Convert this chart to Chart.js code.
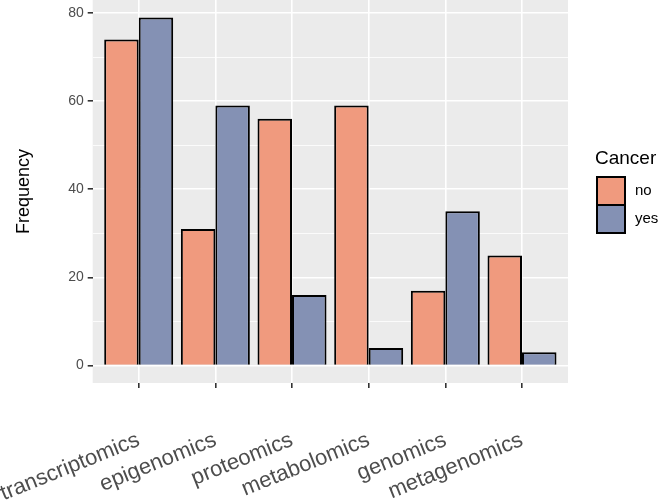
<!DOCTYPE html>
<html>
<head>
<meta charset="utf-8">
<script src="https://cdn.jsdelivr.net/npm/chart.js@4"></script>
<style>
  html, body { margin: 0; padding: 0; background: #ffffff; }
  #c { display: block; }
</style>
</head>
<body>
<canvas id="c" width="669" height="504"></canvas>
<script>
// ---- data ----
const categories = ["transcriptomics", "epigenomics", "proteomics", "metabolomics", "genomics", "metagenomics"];
const seriesNames = ["no", "yes"];
const valuesNo  = [74, 31, 56, 59, 17, 25];
const valuesYes = [79, 59, 16, 4, 35, 3];
const yTickValues = [0, 20, 40, 60, 80];
const yMinorValues = [10, 30, 50, 70];
const legendTitle = "Cancer";
const yTitle = "Frequency";

// ---- styles ----
const FONT = '"Liberation Sans", Arial, Helvetica, sans-serif';
const colNo = '#F09A7E';
const colYes = '#8491B4';
const panelBg = '#EBEBEB';

const toPoints = arr => arr.map((v, i) => ({ x: i + 1, y: v }));

const bgPlugin = {
  id: 'panelBg',
  beforeDraw(chart) {
    const { ctx, chartArea: a } = chart;
    ctx.save();
    ctx.fillStyle = panelBg;
    ctx.fillRect(a.left, a.top, a.right - a.left, a.bottom - a.top);
    ctx.restore();
  }
};

const legendPlugin = {
  id: 'ggLegend',
  afterDraw(chart) {
    const ctx = chart.ctx;
    ctx.save();
    ctx.fillStyle = '#000';
    ctx.font = '19px ' + FONT;
    ctx.textAlign = 'left';
    ctx.textBaseline = 'middle';
    ctx.fillText(legendTitle, 595, 159);
    const bx = 597, bw = 28, bh = 28, by = 177;
    const cols = [colNo, colYes];
    ctx.lineWidth = 2;
    ctx.strokeStyle = '#000';
    seriesNames.forEach((name, i) => {
      ctx.fillStyle = cols[i];
      ctx.fillRect(bx, by + i * bh, bw, bh);
      ctx.strokeRect(bx, by + i * bh, bw, bh);
      ctx.fillStyle = '#000';
      ctx.font = '15px ' + FONT;
      ctx.fillText(name, 635, by + i * bh + bh / 2);
    });
    ctx.restore();
  }
};

new Chart(document.getElementById('c'), {
  type: 'bar',
  data: {
    datasets: [
      { label: seriesNames[0], data: toPoints(valuesNo), backgroundColor: colNo, borderColor: '#000', borderWidth: 2 },
      { label: seriesNames[1], data: toPoints(valuesYes), backgroundColor: colYes, borderColor: '#000', borderWidth: 2 }
    ]
  },
  options: {
    responsive: false,
    animation: false,
    devicePixelRatio: 1,
    layout: { padding: { left: 0, right: 101, top: 0, bottom: 0 } },
    datasets: { bar: { barPercentage: 1.0, categoryPercentage: 0.9 } },
    plugins: { legend: { display: false }, tooltip: { enabled: false }, title: { display: false } },
    scales: {
      x: {
        type: 'linear',
        min: 0.4,
        max: 6.6,
        offset: false,
        afterBuildTicks(scale) { scale.ticks = categories.map((c, i) => ({ value: i + 1 })); },
        afterFit(scale) {
          scale.height = 121;
          scale.paddingLeft = 0; scale.paddingRight = 0;
          scale.paddingTop = 0; scale.paddingBottom = 0;
        },
        ticks: {
          autoSkip: false,
          minRotation: 22,
          maxRotation: 22,
          padding: 39,
          color: '#4D4D4D',
          font: { family: FONT, size: 22 },
          callback: (v) => categories[Math.round(v) - 1] || ''
        },
        grid: { offset: false, color: '#FFFFFF', lineWidth: 1.6, drawTicks: true, tickLength: 5, tickColor: '#333333', tickWidth: 1.6 },
        border: { display: false }
      },
      y: {
        type: 'linear',
        min: -3.95,
        max: 82.95,
        afterBuildTicks(scale) {
          scale.ticks = [...yTickValues, ...yMinorValues].sort((a, b) => a - b).map(v => ({ value: v }));
        },
        afterFit(scale) {
          scale.width = 92.7;
          scale.paddingTop = 0; scale.paddingBottom = 0;
          scale.paddingLeft = 0; scale.paddingRight = 0;
        },
        ticks: {
          padding: 4,
          color: '#4D4D4D',
          font: { family: FONT, size: 14 },
          callback: (v) => yTickValues.includes(v) ? String(v) : ''
        },
        grid: {
          color: '#FFFFFF',
          lineWidth: (c) => (c.tick && yTickValues.includes(c.tick.value)) ? 1.6 : 0.8,
          tickColor: (c) => (c.tick && yTickValues.includes(c.tick.value)) ? '#333333' : 'rgba(0,0,0,0)',
          tickLength: 5,
          tickWidth: 1.6
        },
        border: { display: false },
        title: {
          display: true,
          text: yTitle,
          color: '#000',
          font: { family: FONT, size: 18 },
          padding: { top: 13, bottom: 0 }
        }
      }
    }
  },
  plugins: [bgPlugin, legendPlugin]
});
</script>
</body>
</html>
